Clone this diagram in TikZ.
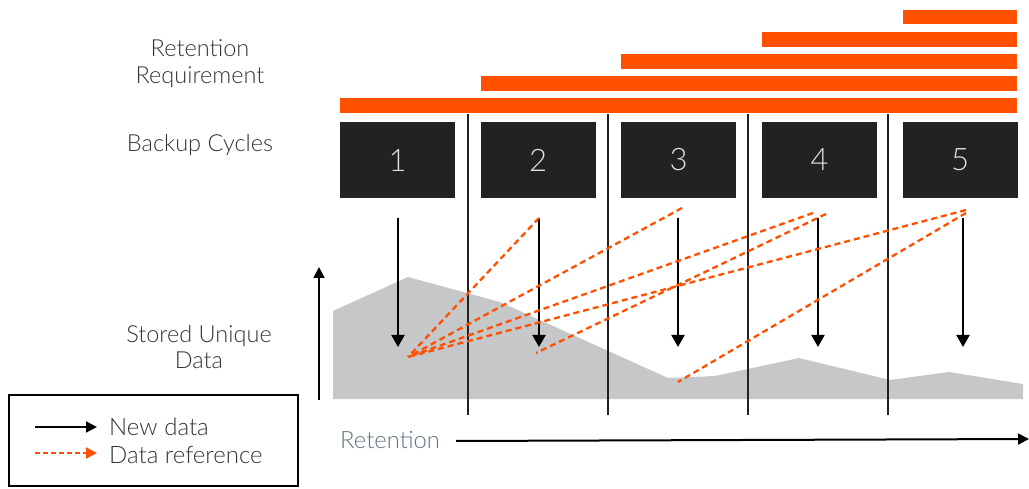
\documentclass[tikz,border=0pt]{standalone}
\usepackage{fontspec}
\setmainfont{Lato}[UprightFont=* Light]
\usetikzlibrary{arrows.meta}
\definecolor{orng}{HTML}{FF5000}
\definecolor{boxc}{HTML}{222222}
\definecolor{areac}{HTML}{C6C7C9}
\definecolor{txtc}{HTML}{333333}
\definecolor{retc}{HTML}{5E7382}
\tikzset{
  bar/.style={fill=orng, draw=none},
  cyclebox/.style={fill=boxc, draw=none, minimum width=115pt, minimum height=76pt, inner sep=0pt, text=white!88!black, font=\fontsize{31}{33}\selectfont},
  sep/.style={draw=boxc, line width=1.8pt},
  newarrow/.style={draw=black, line width=2pt, -{Triangle[length=12pt,width=13pt]}},
  ref/.style={draw=orng, line width=2.3pt, dash pattern=on 6pt off 4pt},
  lbl/.style={text=txtc, font=\fontsize{23.5}{26.5}\selectfont, align=center},
  legtxt/.style={text=txtc, font=\fontsize{24}{28}\selectfont, anchor=west, inner sep=0pt},
}
\begin{document}
\begin{tikzpicture}[x=1pt,y=-1pt]
\useasboundingbox (0,0) rectangle (1029,489);
% retention bars
\fill[bar] (340,98) rectangle (1017,113);
\fill[bar] (481,76) rectangle (1017,91);
\fill[bar] (621,54) rectangle (1017,69);
\fill[bar] (762,32) rectangle (1017,47);
\fill[bar] (903,10) rectangle (1017,24);
% stored data area
\fill[areac] (333,399) -- (333,311) -- (408,277) -- (500,302) -- (668,378) -- (715,376) -- (799,358) -- (890,380) -- (949,372) -- (1023,384) -- (1023,399) -- cycle;
% separators
\foreach \x in {468,608,748,888} \draw[sep] (\x,114) -- (\x,415);
% boxes
\node[cyclebox] (b1) at (397.5,160) {1};
\node[cyclebox] (b2) at (538,160) {2};
\node[cyclebox] (b3) at (678.5,160) {3};
\node[cyclebox] (b4) at (819.5,160) {4};
\node[cyclebox] (b5) at (960,160) {5};
% labels
\node[lbl] (rr) at (200,63.5) {Retention\\Requirement};
\node[lbl] (bc) at (200,145) {Backup Cycles};
\node[lbl] (sud) at (199,347) {Stored Unique\\Data};
% new data arrows
\foreach \i/\x in {1/398,2/539,3/678,4/818,5/963}{
  \coordinate (s\i) at (\x,218);
  \coordinate (e\i) at (\x,347);
  \draw[newarrow] (s\i) -- (e\i);
}
% data references
\coordinate (t1) at (408,357);
\coordinate (t2) at (536,353);
\coordinate (t3) at (678,382);
\coordinate (r2) at (539,218);
\coordinate (r3) at (682,208);
\coordinate (r4a) at (813,213);
\coordinate (r4b) at (826,214);
\coordinate (r5a) at (966,210);
\coordinate (r5b) at (966,213);
\draw[ref] (r2) -- (t1);
\draw[ref] (r3) -- (t1);
\draw[ref] (r4a) -- (t1);
\draw[ref] (r4b) -- (t2);
\draw[ref] (r5a) -- (t1);
\draw[ref] (r5b) -- (t3);
% vertical axis
\coordinate (va) at (319,400);
\coordinate (vb) at (319,267);
\draw[draw=black, line width=1.8pt, -{Triangle[length=11pt,width=11pt]}] (va) -- (vb);
% retention axis
\node[text=retc, font=\fontsize{23.8}{26}\selectfont, anchor=west, inner sep=0pt] (ret) at (340,440) {Retention};
\coordinate (rend) at (1029,439);
\draw[draw=black, line width=2pt, -{Triangle[length=11pt,width=11pt]}] (456,441) -- (rend);
% legend
\node[draw=black, line width=1.5pt, minimum width=289pt, minimum height=91pt, inner sep=0pt] (leg) at (153.5,440.5) {};
\coordinate (la1) at (35,427);
\coordinate (la2) at (97,427);
\coordinate (lb1) at (35,453);
\coordinate (lb2) at (97,453);
\draw[draw=black, line width=1.8pt, -{Triangle[length=11pt,width=11pt]}] (la1) -- (la2);
\draw[draw=orng, line width=1.8pt, dash pattern=on 5pt off 3pt, -{Triangle[length=11pt,width=11pt]}] (lb1) -- (lb2);
\node[legtxt] (ln) at (109,427) {New data};
\node[legtxt] (lr) at (109,455) {Data reference};
\end{tikzpicture}
\end{document}
